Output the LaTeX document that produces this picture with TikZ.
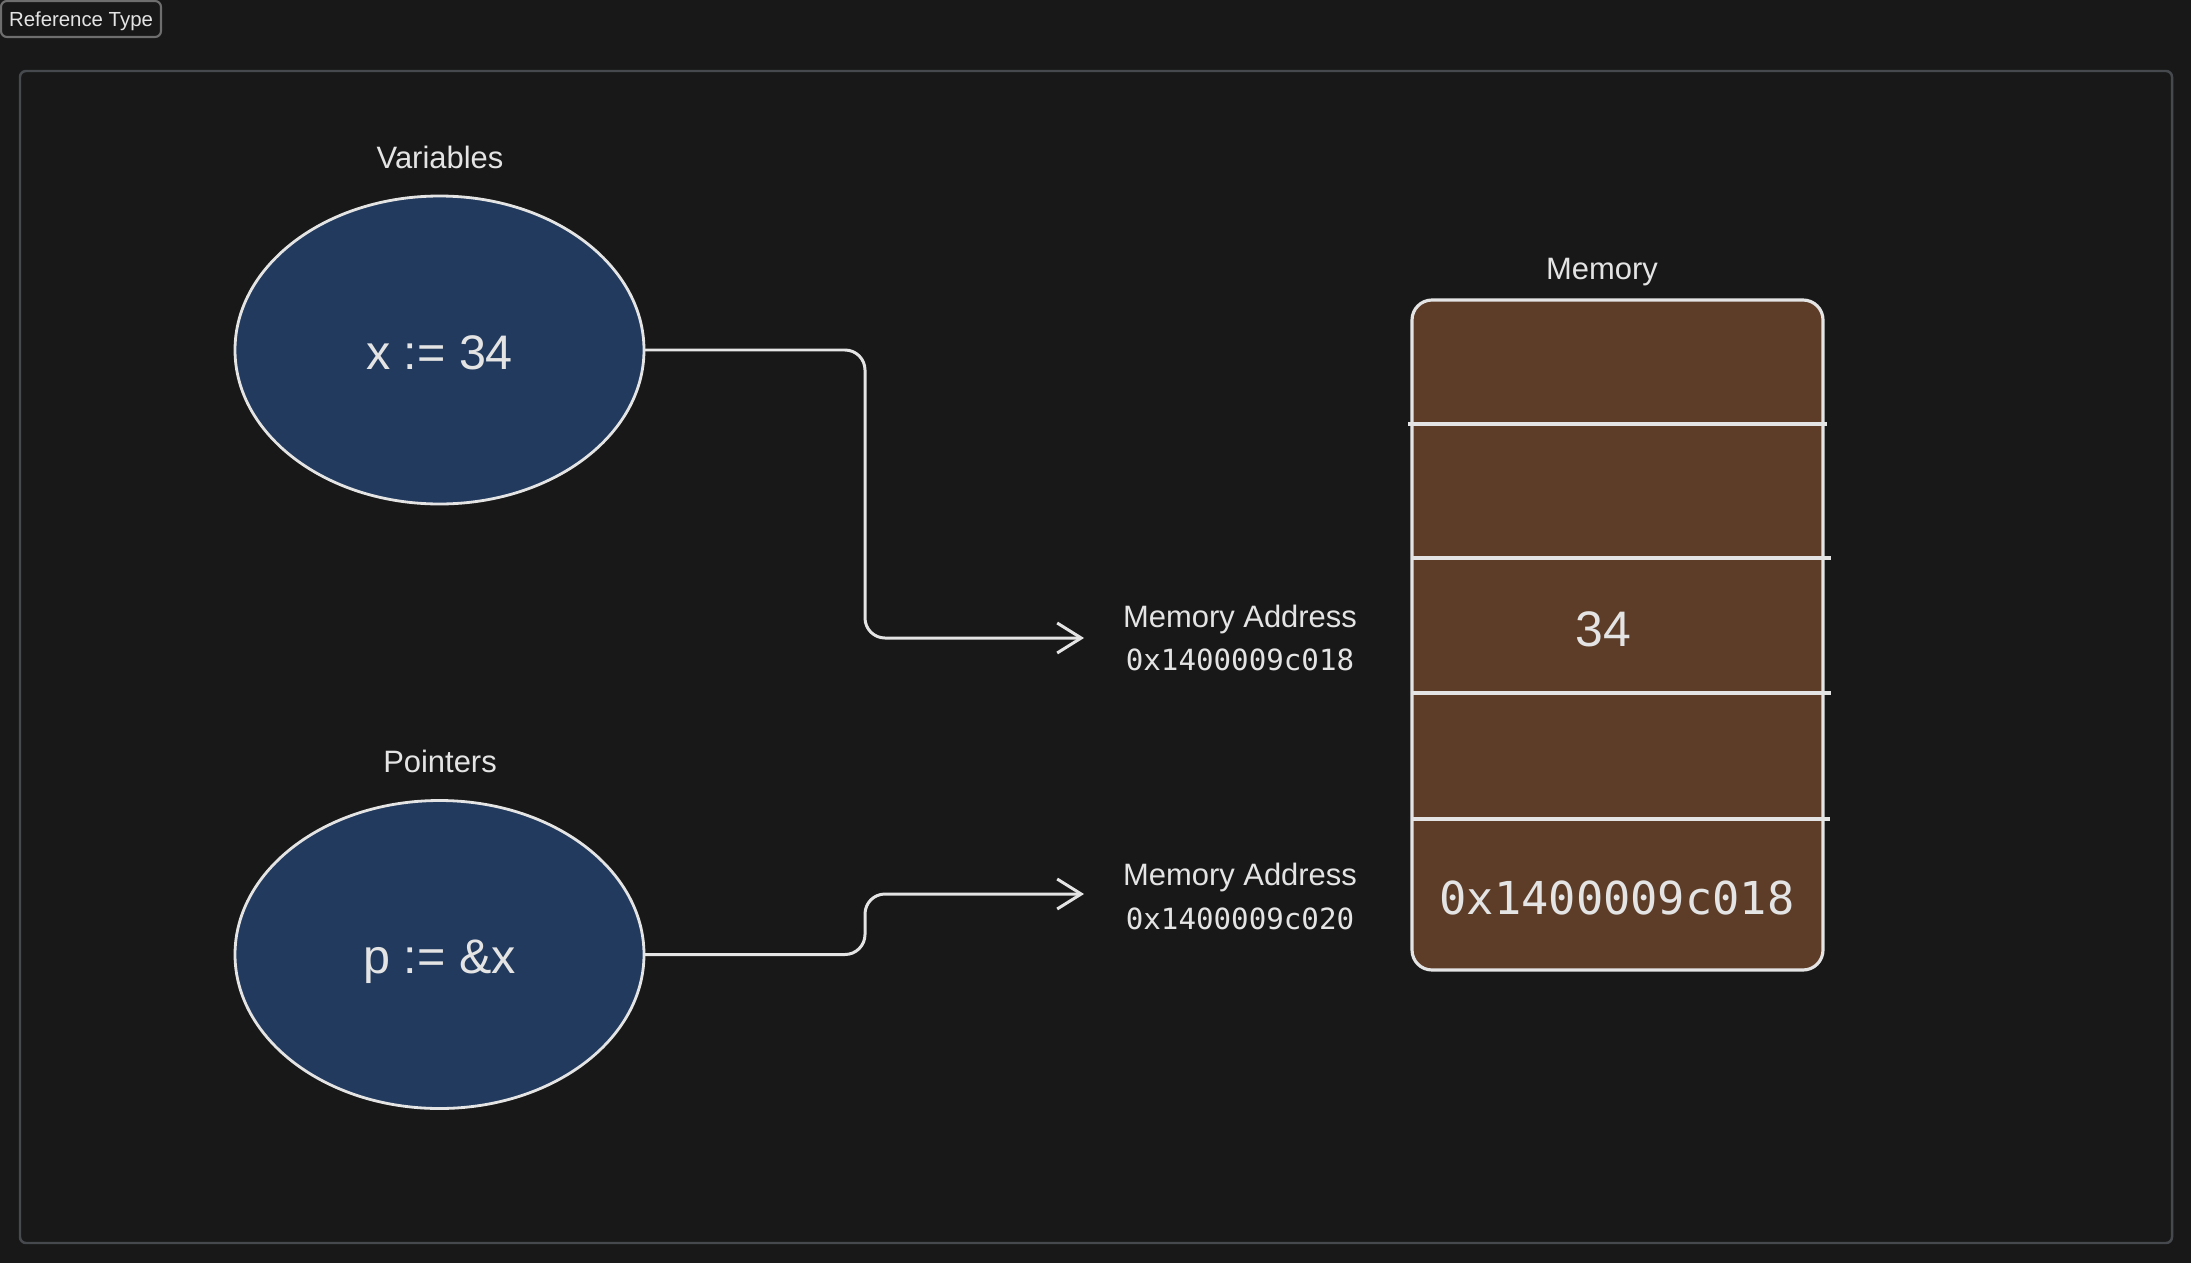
\documentclass[tikz,border=0pt]{standalone}
\usepackage{fontspec}
\setmainfont{Liberation Sans}
\newfontfamily\monofont{DejaVu Sans Mono}
\usetikzlibrary{arrows.meta, shapes.geometric}
\definecolor{bgdark}{HTML}{181818}
\definecolor{framegray}{HTML}{46494E}
\definecolor{taggray}{HTML}{6E6E6E}
\definecolor{inkwhite}{HTML}{E4E4E4}
\definecolor{varblue}{HTML}{223A5E}
\definecolor{membrown}{HTML}{5D3D28}

\begin{document}
\begin{tikzpicture}[
    caption/.style={text=inkwhite, font=\fontsize{8.8}{10}\selectfont, anchor=base, inner sep=0pt},
    addrmono/.style={text=inkwhite, font=\monofont\fontsize{8.3}{10}\selectfont, anchor=base, inner sep=0pt},
    varnode/.style={ellipse, draw=inkwhite, fill=varblue, line width=0.8pt, minimum width=4.09cm, minimum height=3.08cm, inner sep=0pt, outer sep=0pt, text=inkwhite, font=\fontsize{13.8}{16}\selectfont, text height=0.4cm, text depth=0.02cm},
    membox/.style={draw=inkwhite, fill=membrown, line width=0.9pt, rounded corners=0.2cm, minimum width=4.11cm, minimum height=6.70cm, inner sep=0pt},
    rowline/.style={draw=inkwhite, line width=0.9pt},
    link/.style={draw=inkwhite, line width=0.85pt, rounded corners=0.2cm, -{Straight Barb[length=2.4mm, width=3mm]}},
    tag/.style={draw=taggray, fill=bgdark, line width=0.6pt, rounded corners=0.06cm, minimum width=1.6cm, minimum height=0.36cm, inner sep=0pt, text=inkwhite, font=\fontsize{5.8}{7}\selectfont, text height=0.15cm, text depth=0cm},
]

% Background and frame
\useasboundingbox (0,0) rectangle (21.91,12.63);
\fill[bgdark] (0,0) rectangle (21.91,12.63);
\draw[framegray, line width=0.7pt, rounded corners=0.06cm] (0.20,11.92) rectangle (21.72,0.20);
\node[tag] (reftag) at (0.81,12.44) {Reference Type};

% Variables
\node[caption] (varlbl) at (4.40,10.95) {Variables};
\node[varnode] (x) at (4.395,9.13) {x := 34};

% Pointers
\node[caption] (ptrlbl) at (4.40,4.91) {Pointers};
\node[varnode] (p) at (4.395,3.085) {p := \&x};

% Memory
\node[caption] (memlbl) at (16.02,9.84) {Memory};
\node[membox] (mem) at (16.175,6.28) {};
\foreach \yy/\xa/\xb in {8.39/14.08/18.27, 7.05/14.12/18.31, 5.70/14.12/18.31, 4.44/14.12/18.30}
    \draw[rowline] (\xa,\yy) -- (\xb,\yy);
\node[text=inkwhite, font=\fontsize{14.2}{16}\selectfont, anchor=base, inner sep=0pt] (cellx) at (16.03,6.17) {34};
\node[text=inkwhite, font=\monofont\fontsize{12.9}{15}\selectfont, anchor=base, inner sep=0pt] (cellp) at (16.17,3.49) {0x1400009c018};

% Addresses
\node[caption] (addrxlbl) at (12.40,6.36) {Memory Address};
\node[addrmono] (addrx) at (12.40,5.93) {0x1400009c018};
\node[caption] (addrplbl) at (12.40,3.78) {Memory Address};
\node[addrmono] (addrp) at (12.40,3.34) {0x1400009c020};

% Arrows
\coordinate (bendx) at (8.65,6.25);
\coordinate (tipx) at (10.84,6.25);
\coordinate (bendp) at (8.65,3.69);
\coordinate (tipp) at (10.84,3.69);
\draw[link] (x.east) -| (bendx) -- (tipx);
\draw[link] (p.east) -| (bendp) -- (tipp);

\end{tikzpicture}
\end{document}
